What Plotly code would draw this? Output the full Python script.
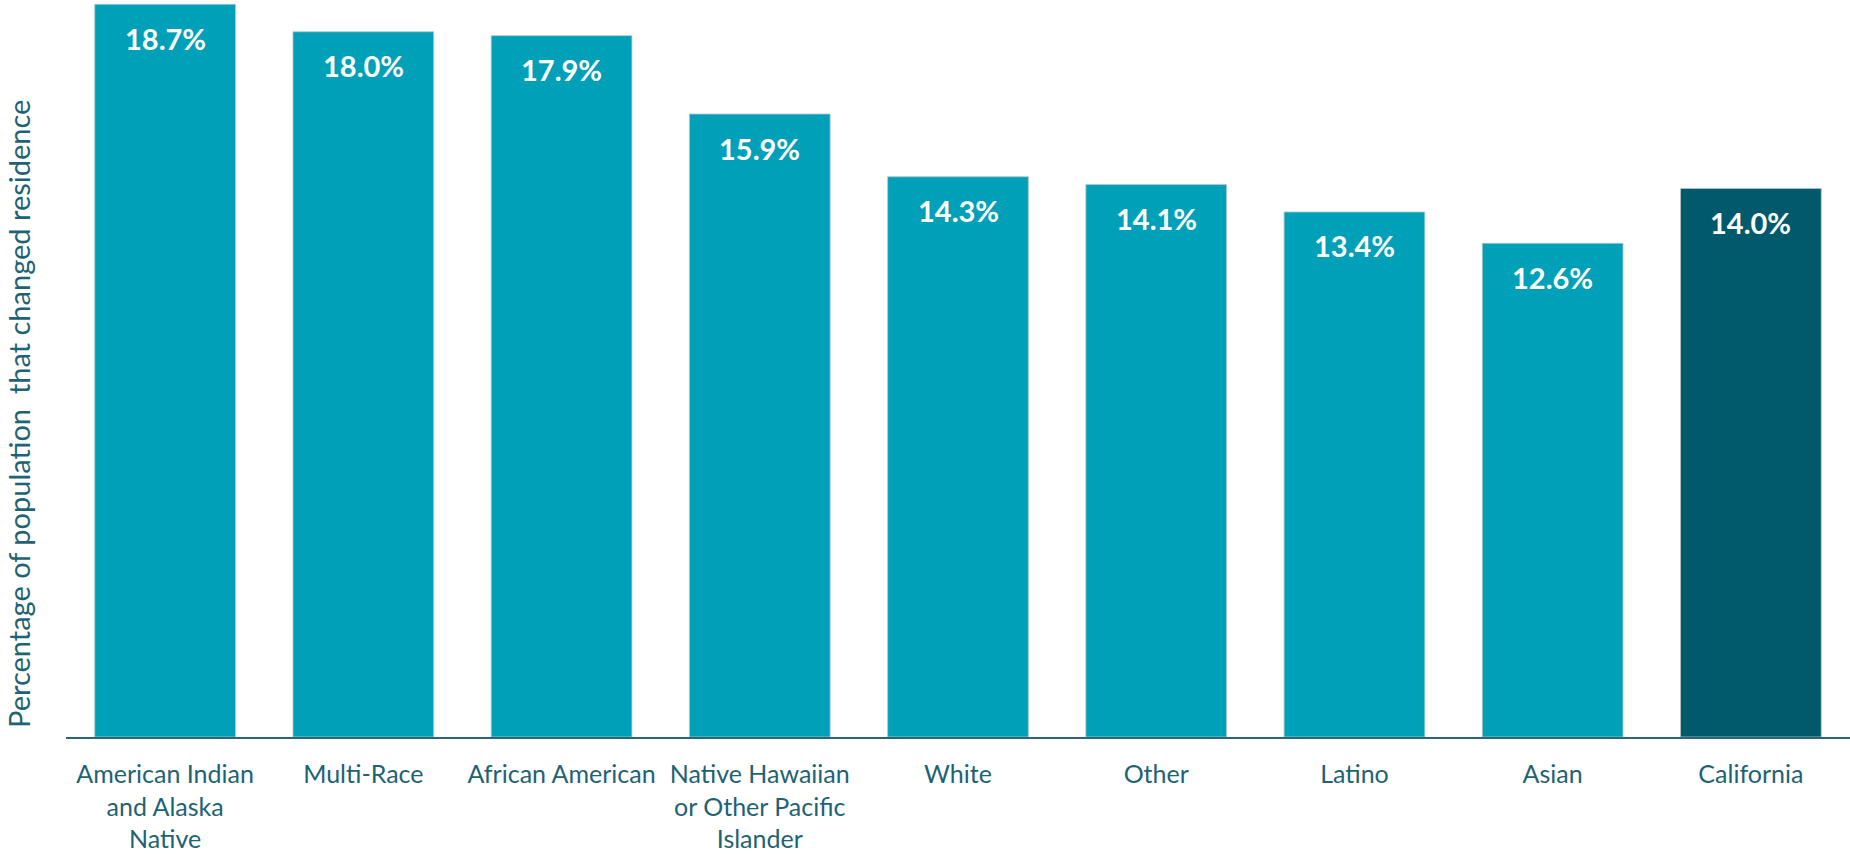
import plotly.graph_objects as go

# Share of each group that changed residence in the past year
categories = [
    "American Indian<br>and Alaska<br>Native",
    "Multi-Race",
    "African American",
    "Native Hawaiian<br>or Other Pacific<br>Islander",
    "White",
    "Other",
    "Latino",
    "Asian",
    "California",
]
values = [18.7, 18.0, 17.9, 15.9, 14.3, 14.1, 13.4, 12.6, 14.0]
value_labels = ["18.7%", "18.0%", "17.9%", "15.9%", "14.3%", "14.1%", "13.4%", "12.6%", "14.0%"]

GROUP_COLOR = "#00A1B8"
STATE_COLOR = "#005A6B"
TEXT_COLOR = "#1E6373"
FONT = "Lato"

bar_colors = [STATE_COLOR if c == "California" else GROUP_COLOR for c in categories]

fig = go.Figure()
fig.add_trace(
    go.Bar(
        x=categories,
        y=values,
        marker=dict(color=bar_colors, line=dict(color="#B4C6CB", width=0.8)),
        hoverinfo="x+y",
        showlegend=False,
    )
)

# Value labels sit inside the top of each bar
for cat, val, lab in zip(categories, values, value_labels):
    fig.add_annotation(
        x=cat, y=val, xref="x", yref="y",
        text=f"<b>{lab}</b>",
        showarrow=False,
        yanchor="middle",
        yshift=-34,
        font=dict(family=FONT, size=29, color="white"),
    )

# Vertical axis title
fig.add_annotation(
    x=0, y=(737 - 414) / 737, xref="paper", yref="paper",
    text="Percentage of population  that changed residence",
    showarrow=False,
    textangle=-90,
    xanchor="center", yanchor="middle",
    xshift=-48,
    font=dict(family=FONT, size=29, color=TEXT_COLOR),
)

fig.update_layout(
    width=1850,
    height=854,
    margin=dict(l=66, r=0, t=0, b=117, autoexpand=False),
    paper_bgcolor="white",
    plot_bgcolor="white",
    bargap=0.29,
    font=dict(family=FONT, color=TEXT_COLOR),
)
fig.update_xaxes(
    automargin=False,
    showline=True,
    linecolor="#2A6675",
    linewidth=2,
    showgrid=False,
    ticks="",
    tickfont=dict(family=FONT, size=25, color=TEXT_COLOR),
    ticklabelstandoff=14,
)
fig.update_yaxes(
    automargin=False,
    range=[0, 18.81],
    showline=False,
    showgrid=False,
    zeroline=False,
    showticklabels=False,
    ticks="",
)

fig.write_html("out.html")
